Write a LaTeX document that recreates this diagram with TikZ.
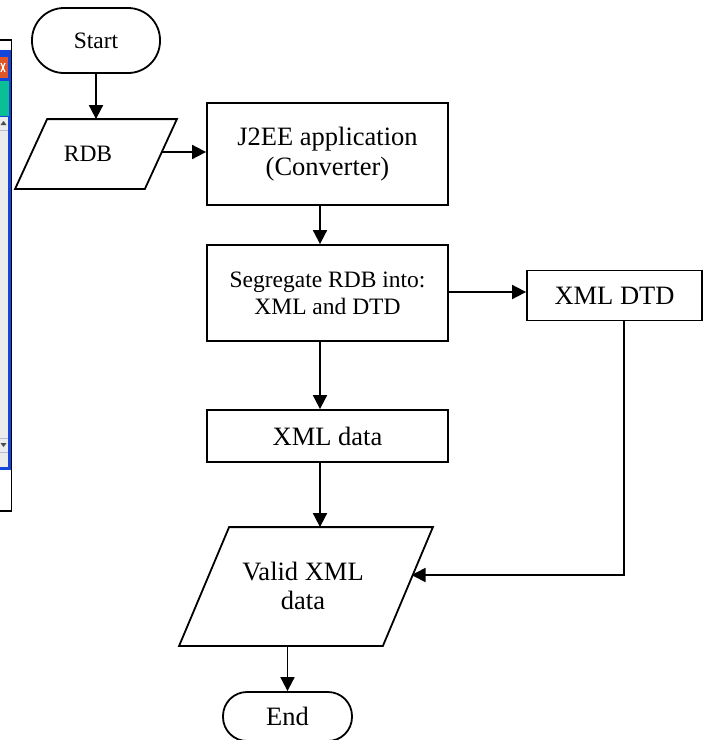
\documentclass[tikz,border=0pt]{standalone}
\usepackage{fontspec}
\setmainfont{Liberation Serif}
\usetikzlibrary{arrows.meta,calc}
\definecolor{xpblue}{RGB}{20,70,220}
\definecolor{xpgray}{RGB}{236,236,236}
\definecolor{xpred}{RGB}{225,85,40}
\definecolor{xpgreen}{RGB}{10,190,150}
\definecolor{xpline}{RGB}{180,190,205}
\begin{document}
\begin{tikzpicture}[x=1pt,y=-1pt,line width=1.8pt,
  box/.style={draw,rectangle,inner sep=0pt,align=center},
  frame/.style={rectangle,inner sep=0pt},
  small/.style={font=\fontsize{23.5}{27}\selectfont},
  big/.style={font=\fontsize{26.5}{29.5}\selectfont},
  conn/.style={-{Triangle[length=14pt,width=14pt]}},
  plain/.style={line width=1.6pt}]
\useasboundingbox (0,0) rectangle (710,740);
% window fragment at the left edge
\fill[white] (-2,40) rectangle (11.4,511);
\draw[line width=1.2pt] (-2,40) -- (11.2,40) -- (11.2,511) -- (-2,511);
\fill[xpblue] (0,50) rectangle (10.6,470);
\fill[xpgray] (0,117) rectangle (8.4,467);
\fill[xpred] (0,57) rectangle (7.5,78);
\draw[white,line width=1.2pt] (1,63) -- (5,72) (1,72) -- (5,63);
\fill[xpgreen] (0,81) rectangle (9,116);
\draw[xpline,line width=0.8pt] (0,130) -- (8.4,130) (0,438) -- (8.4,438) (0,452) -- (8.4,452);
\fill[black!70] (0.5,125) -- (3.5,121) -- (6.5,125) -- cycle;
\fill[black!70] (0.5,443) -- (3.5,447) -- (6.5,443) -- cycle;
% nodes
\node[box,small,rounded corners=32pt,minimum width=128pt,minimum height=65pt] (start) at (96,40.5) {Start};
\node[frame,minimum width=160pt,minimum height=68pt] (rdb) at (96,154) {};
\node[small] (rdbtext) at (88,154) {RDB};
\node[box,big,minimum width=241pt,minimum height=102pt] (j2ee) at (327.5,154) {J2EE application\\(Converter)};
\node[box,small,minimum width=241pt,minimum height=96pt] (seg) at (327.5,293) {Segregate RDB into:\\XML and DTD};
\node[box,big,minimum width=175pt,minimum height=50pt] (dtd) at (614.5,295.5) {XML DTD};
\node[box,big,minimum width=241pt,minimum height=52pt] (xmldata) at (327.5,436) {XML data};
\node[frame,minimum width=252pt,minimum height=117pt] (valid) at (306,586.5) {};
\node[big,align=center] (validtext) at (303,586) {Valid XML\\data};
\node[box,big,rounded corners=24pt,minimum width=129pt,minimum height=49pt] (end) at (287.5,716.5) {End};
% parallelograms
\draw ($(rdb.north west)+(32,0)$) -- (rdb.north east) -- ($(rdb.south east)+(-32,0)$) -- (rdb.south west) -- cycle;
\draw ($(valid.north west)+(50,0)$) -- (valid.north east) -- ($(valid.south east)+(-50,0)$) -- (valid.south west) -- cycle;
% helper coordinates
\coordinate (col) at (320,0);
\coordinate (rdbR) at (161.5,152);
\coordinate (dtdx) at (624,0);
\coordinate (validR) at (411.5,575);
% connectors
\draw[conn] (start.south) -- (rdb.north);
\draw[conn] (rdbR) -- (rdbR -| j2ee.west);
\draw[conn] (j2ee.south -| col) -- (seg.north -| col);
\draw[conn] (seg.east |- 0,292) -- (dtd.west |- 0,292);
\draw[conn] (seg.south -| col) -- (xmldata.north -| col);
\draw[conn] (xmldata.south -| col) -- (valid.north -| col);
\draw[conn,plain] (dtd.south -| dtdx) -- (dtdx |- validR) -- (validR);
\draw[conn] (valid.south -| end.north) -- (end.north);
\end{tikzpicture}
\end{document}
